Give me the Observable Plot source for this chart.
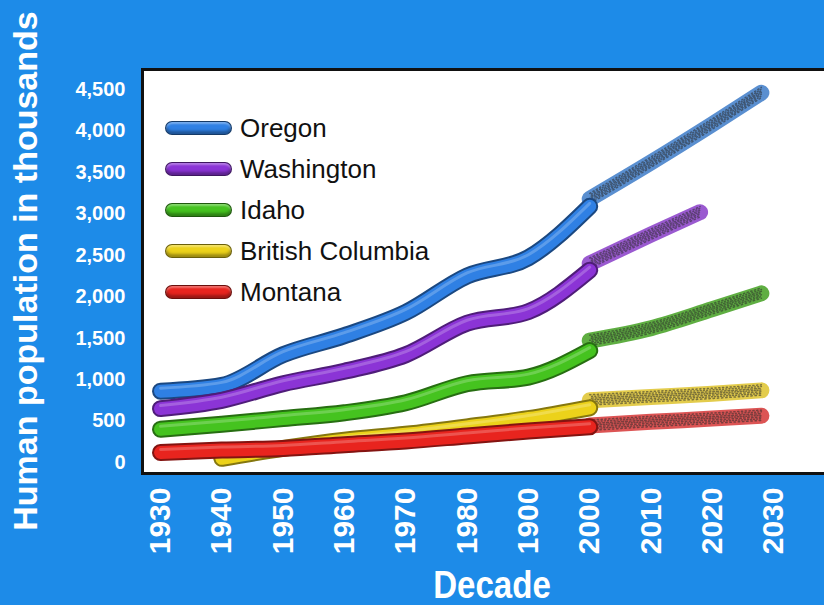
<!DOCTYPE html>
<html>
<head>
<meta charset="utf-8">
<script src="https://cdn.jsdelivr.net/npm/d3@7"></script>
<script src="https://cdn.jsdelivr.net/npm/@observablehq/plot@0.6"></script>
<style>
  html, body { margin: 0; padding: 0; width: 824px; height: 605px; overflow: hidden; background: #1d8be8; }
  #wrap { position: relative; width: 824px; height: 605px; overflow: hidden; }
  #chart { position: absolute; left: 0; top: 0; width: 840px; }
  #chart svg { max-width: none !important; }
  .ytitle { position: absolute; left: 25px; top: 271px; transform: translate(-50%, -50%) rotate(-90deg);
            font: bold 34px "Liberation Sans", Arial, sans-serif; line-height: 34px; color: #fff; white-space: nowrap; }
  .xtitle { position: absolute; left: 492px; top: 566px; transform: translateX(-50%) scaleX(0.87);
            font: bold 38px "Liberation Sans", Arial, sans-serif; line-height: 38px; color: #fff; white-space: nowrap; }
  .legend { position: absolute; left: 165px; top: 107px; }
  .row { display: flex; align-items: center; height: 41.2px; }
  .sw { width: 67px; height: 14px; border-radius: 7px; margin-right: 8px; box-sizing: border-box;
        border: 1.5px solid rgba(0,0,0,0.55); box-shadow: inset 0 -3px 3px rgba(0,0,0,0.35), inset 0 2px 2px rgba(255,255,255,0.35); }
  .lab { font: 26px "Liberation Sans", Arial, sans-serif; color: #111; line-height: 30px; }
</style>
</head>
<body>
<div id="wrap">
  <div id="chart"></div>
  <div class="ytitle">Human population in thousands</div>
  <div class="xtitle">Decade</div>
  <div class="legend" id="legend"></div>
</div>
<script>
// ---- data (thousands) ----
const decades = [1930, 1940, 1950, 1960, 1970, 1980, 1990, 2000, 2010, 2020, 2030];
const decadeLabels = ["1930", "1940", "1950", "1960", "1970", "1980", "1900", "2000", "2010", "2020", "2030"];
const yTicks = [0, 500, 1000, 1500, 2000, 2500, 3000, 3500, 4000, 4500];

const states = ["Oregon", "Washington", "Idaho", "British Columbia", "Montana"];
const stateColors = ["#2f80e4", "#8b34d6", "#45c31f", "#ecd21a", "#e8241e"];
const projColors = ["#5a8fd0", "#9a5ad0", "#5fae42", "#e3cc4c", "#dc5454"];

const histYears = [1930, 1940, 1950, 1960, 1970, 1980, 1990, 2000];
const bcHistYears = [1940, 1950, 1960, 1970, 1980, 1990, 2000];
const oregonHist = [860, 930, 1300, 1530, 1810, 2250, 2470, 3090];
const washingtonHist = [650, 750, 950, 1100, 1300, 1680, 1820, 2320];
const idahoHist = [400, 460, 530, 600, 720, 950, 1030, 1350];
const bcHist = [50, 170, 270, 340, 430, 530, 660];
const montanaHist = [120, 150, 170, 215, 260, 320, 380, 430];

const projYears = [2000, 2010, 2020, 2028];
const washingtonProjYears = [2000, 2010, 2018];
const oregonProj = [3180, 3620, 4080, 4460];
const washingtonProj = [2400, 2750, 3020];
const idahoProj = [1470, 1620, 1850, 2040];
const bcProj = [750, 790, 830, 870];
const montanaProj = [445, 490, 530, 565];

// ---- build tables ----
const hist = [
  [histYears, oregonHist], [histYears, washingtonHist], [histYears, idahoHist],
  [bcHistYears, bcHist], [histYears, montanaHist]
];
const proj = [
  [projYears, oregonProj], [washingtonProjYears, washingtonProj], [projYears, idahoProj],
  [projYears, bcProj], [projYears, montanaProj]
];
const toRows = (years, vals) => years.map((y, i) => ({year: y, value: vals[i]}));

// speckle texture for projected segments: thin dashed strands laid along the line
const speckle = [
  {dy: -5.5, dash: "1.2 2.6", off: 0},
  {dy: -3.8, dash: "1 2.2", off: 1.3},
  {dy: -2, dash: "1.8 2", off: 2.1},
  {dy: -0.3, dash: "1 1.8", off: 0.4},
  {dy: 1.4, dash: "1.5 2.4", off: 1.7},
  {dy: 3.1, dash: "1 2", off: 0.9},
  {dy: 4.8, dash: "1.4 2.8", off: 2.4}
];

const lineMarks = [];
states.forEach((s, i) => {
  const h = toRows(...hist[i]);
  const p = toRows(...proj[i]);
  const c = stateColors[i];
  lineMarks.push(
    Plot.line(p, {x: "year", y: "value", stroke: projColors[i], strokeWidth: 16, strokeLinecap: "round", curve: "monotone-x"})
  );
  speckle.forEach(sp => lineMarks.push(
    Plot.line(p, {x: "year", y: "value", stroke: "#2a2a2a", strokeOpacity: 0.55, strokeWidth: 1.5, dy: sp.dy,
      strokeDasharray: sp.dash, strokeDashoffset: sp.off, curve: "monotone-x"})
  ));
  lineMarks.push(
    Plot.line(h, {x: "year", y: "value", stroke: d3.color(c).darker(1.6).formatHex(), strokeWidth: 17, strokeLinecap: "round", strokeLinejoin: "round", curve: "monotone-x"}),
    Plot.line(h, {x: "year", y: "value", stroke: c, strokeWidth: 13, strokeLinecap: "round", strokeLinejoin: "round", curve: "monotone-x"}),
    Plot.line(h, {x: "year", y: "value", stroke: "white", strokeOpacity: 0.22, strokeWidth: 3, dy: -3, strokeLinecap: "round", curve: "monotone-x"})
  );
});

const chart = Plot.plot({
  width: 840,
  height: 605,
  marginLeft: 142,
  marginTop: 69,
  marginBottom: 132,
  marginRight: 8,
  style: {background: "transparent", overflow: "visible", maxWidth: "none"},
  x: {type: "linear", domain: [1927.06, 2039.6], axis: null},
  y: {domain: [-133, 4741], axis: null},
  marks: [
    Plot.frame({fill: "white", stroke: "none"}),
    Plot.axisY(yTicks, {tickSize: 0, tickPadding: 17, fill: "white", fontSize: 20, fontWeight: "bold",
      fontFamily: "Liberation Sans, Arial, sans-serif", tickFormat: d3.format(","), label: null}),
    Plot.text(decades, {x: d => d, text: (d, i) => decadeLabels[i], frameAnchor: "bottom", rotate: -90,
      textAnchor: "end", lineAnchor: "middle", dy: 14, fill: "white", fontSize: 30, fontWeight: "bold",
      fontFamily: "Liberation Sans, Arial, sans-serif", ariaLabel: "decade labels"}),
    ...lineMarks,
    Plot.frame({stroke: "#111", strokeWidth: 3})
  ]
});
document.getElementById("chart").appendChild(chart);
d3.select(chart).selectAll('g[aria-label="decade labels"] text')
  .attr("textLength", 55).attr("lengthAdjust", "spacingAndGlyphs");

// ---- legend ----
const legend = d3.select("#legend");
states.forEach((s, i) => {
  const row = legend.append("div").attr("class", "row");
  row.append("div").attr("class", "sw").style("background", stateColors[i]);
  row.append("div").attr("class", "lab").text(s);
});
</script>
</body>
</html>
